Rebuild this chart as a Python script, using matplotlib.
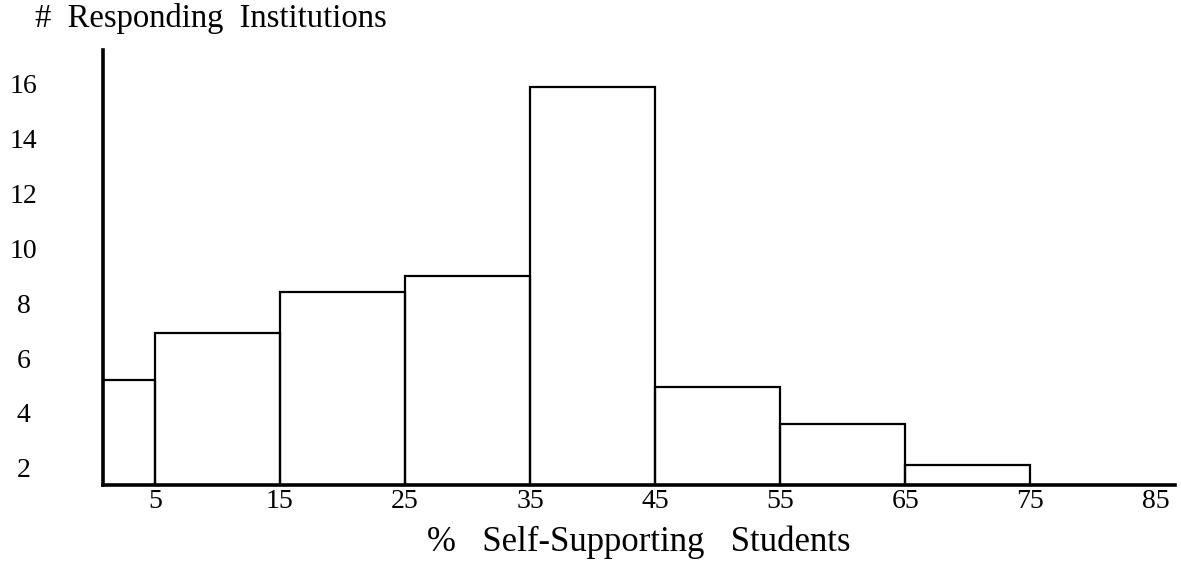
import numpy as np
import matplotlib.pyplot as plt

plt.rcParams['font.family'] = ['Liberation Serif', 'DejaVu Serif']

# bins of % self-supporting students and number of responding institutions
bin_left = [0, 5, 15, 25, 35, 45, 55, 65]
bin_width = [5, 10, 10, 10, 10, 10, 10, 10]
n_inst = [5.2, 6.9, 8.4, 9.0, 15.85, 4.95, 3.6, 2.1]
x_ticks = [5, 15, 25, 35, 45, 55, 65, 75, 85]
y_ticks = [2, 4, 6, 8, 10, 12, 14, 16]

fig = plt.figure(figsize=(11.81, 5.63), dpi=100)
ax = fig.add_axes([0.0872, 0.1385, 0.908, 0.7725])

ax.bar(bin_left, n_inst, width=bin_width, align="edge", bottom=0,
       facecolor="none", edgecolor="black", lw=1.6)

ax.set_xlim(0.85, 86.6)
ax.set_ylim(1.38, 17.2)
ax.set_xticks(x_ticks)
ax.set_yticks(y_ticks)
ax.tick_params(axis="both", length=0, labelsize=20)
ax.tick_params(axis="x", pad=3)
ax.tick_params(axis="y", pad=57)
for t in ax.get_yticklabels():
    t.set_ha("center")

for s in ("top", "right"):
    ax.spines[s].set_visible(False)
for s in ("left", "bottom"):
    ax.spines[s].set_linewidth(2.6)

ax.set_xlabel("%   Self-Supporting   Students", fontsize=25, labelpad=8)
fig.text(35 / 1181, 1 - 18 / 563, "#  Responding  Institutions",
         fontsize=23.5, ha="left", va="center")

fig.savefig("out.png", dpi=100)
